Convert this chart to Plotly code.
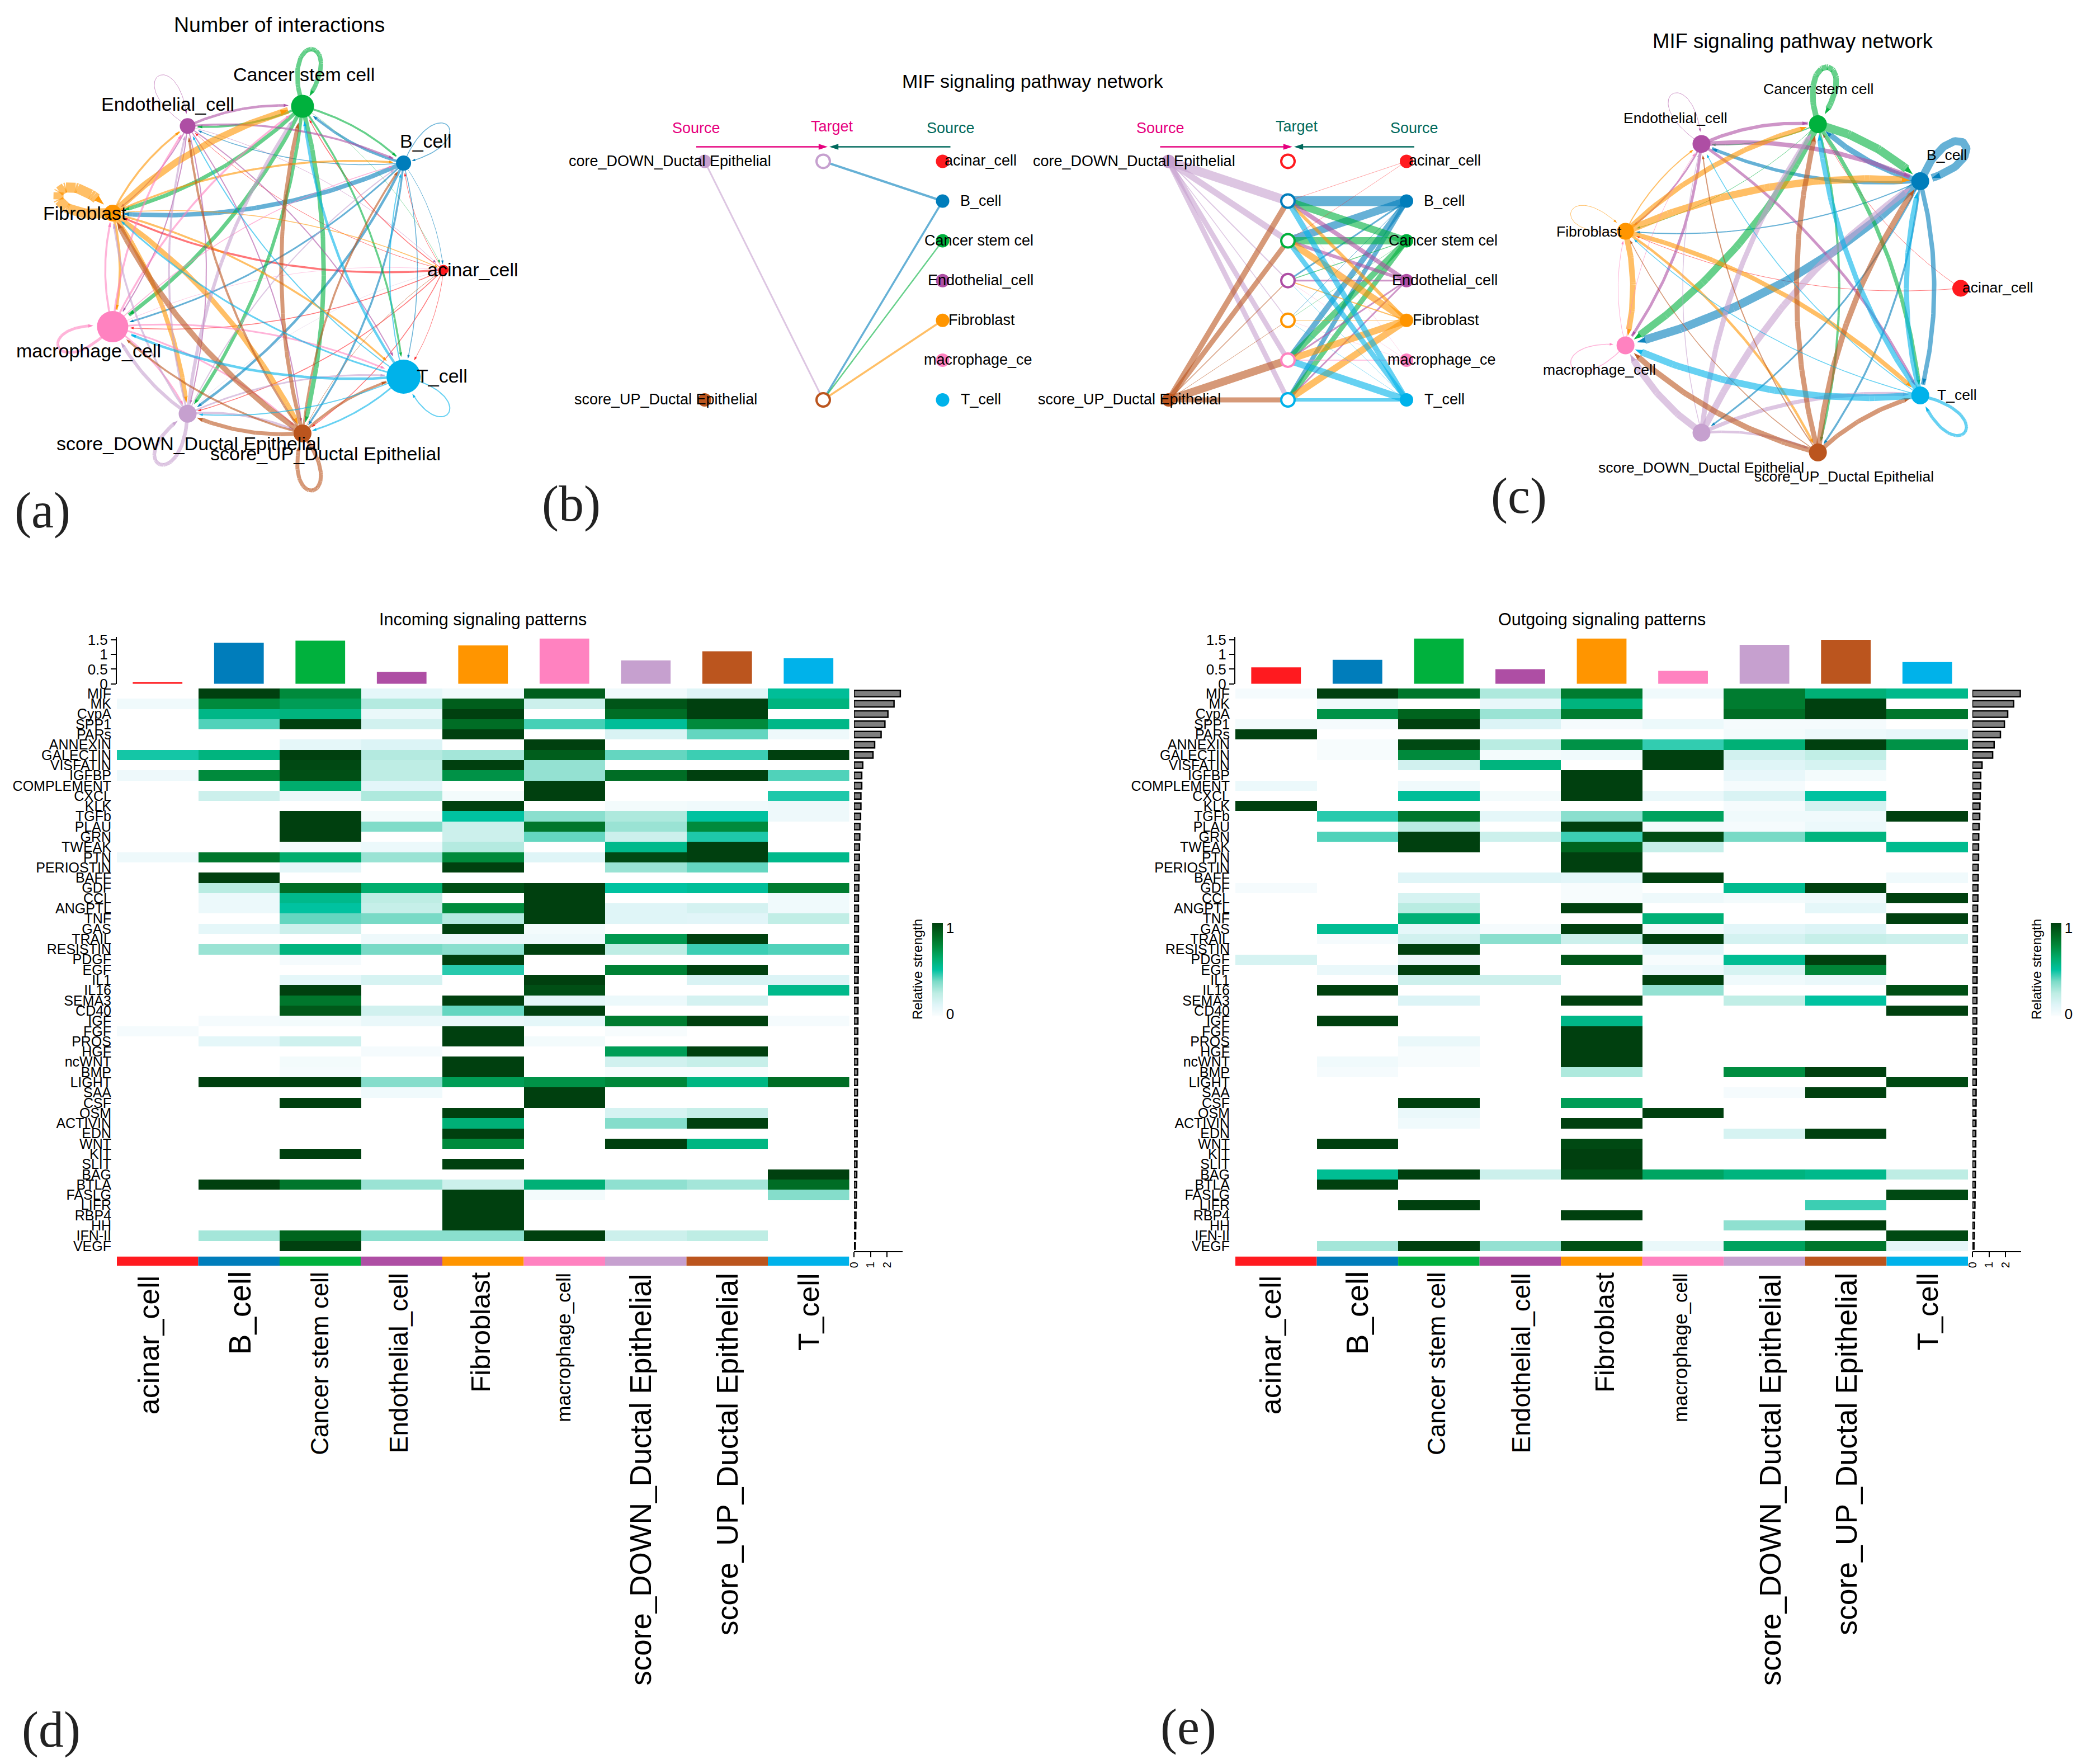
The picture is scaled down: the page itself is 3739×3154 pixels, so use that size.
import math
import plotly.graph_objects as go

W, H = 3739, 3154
FONT = "Liberation Sans"

CELLS = ["acinar_cell", "B_cell", "Cancer stem cell", "Endothelial_cell", "Fibroblast",
         "macrophage_cell", "score_DOWN_Ductal Epithelial", "score_UP_Ductal Epithelial", "T_cell"]
CELL_COLORS = ["#FF1A1F", "#007DBB", "#00B13D", "#AE4EA4", "#FF9500", "#FF82C0", "#C6A0CF", "#BB551E", "#00B2EA"]

PATHWAYS = ["MIF", "MK", "CypA", "SPP1", "PARs", "ANNEXIN", "GALECTIN", "VISFATIN", "IGFBP", "COMPLEMENT",
            "CXCL", "KLK", "TGFb", "PLAU", "GRN", "TWEAK", "PTN", "PERIOSTIN", "BAFF", "GDF", "CCL", "ANGPTL",
            "TNF", "GAS", "TRAIL", "RESISTIN", "PDGF", "EGF", "IL1", "IL16", "SEMA3", "CD40", "IGF", "FGF",
            "PROS", "HGF", "ncWNT", "BMP", "LIGHT", "SAA", "CSF", "OSM", "ACTIVIN", "EDN", "WNT", "KIT", "SLIT",
            "BAG", "BTLA", "FASLG", "LIFR", "RBP4", "HH", "IFN-II", "VEGF"]

INCOMING = [
    [0, 1, .75, .1, .05, .9, .05, .13, .52],
    [.05, .75, .68, .27, .9, .2, .93, 1, .58],
    [0, .56, .58, .08, 1, 0, .85, 1, 0],
    [0, .42, 1, .18, .85, .43, .52, .75, .56],
    [0, 0, 0, 0, 1, 0, .15, .4, .06],
    [0, 0, .1, .14, 0, 1, 0, 0, 0],
    [.48, .58, 1, .27, .3, .9, .4, .44, 1],
    [0, 0, .97, .25, 1, .33, 0, 0, 0],
    [.06, .75, .95, .25, .72, .33, .85, 1, .42],
    [0, 0, .62, .11, 0, 1, 0, 0, 0],
    [0, .2, .08, .28, .04, 1, 0, 0, .47],
    [0, 0, 0, 0, 1, 0, .04, .05, .06],
    [0, 0, 1, .04, .5, .35, .28, .5, .06],
    [0, 0, 1, .37, .2, .82, .32, .75, 0],
    [0, 0, 1, 0, .2, .4, .2, .47, 0],
    [0, 0, .04, .07, .27, 0, .55, 1, 0],
    [.06, .82, .62, .32, .75, .13, .97, 1, .55],
    [0, 0, .1, 0, 1, 0, .32, .4, 0],
    [0, 1, 0, 0, 0, 0, 0, 0, 0],
    [0, .26, .85, .62, .95, 1, .5, .52, .8],
    [0, .07, .55, .25, 0, 1, 0, 0, .05],
    [0, .07, .5, .22, .75, 1, .13, .17, .05],
    [0, 0, .4, .38, .27, 1, .13, .12, .24],
    [0, .1, .2, 0, 1, .04, 0, 0, 0],
    [0, 0, 0, .06, .06, .06, .7, 1, 0],
    [0, .32, .58, .38, .35, 1, .25, .44, .42],
    [0, 0, .03, 0, 1, 0, 0, 0, 0],
    [0, 0, 0, 0, .46, 0, .78, 1, 0],
    [0, 0, .1, .16, 0, 1, 0, .15, .14],
    [0, 0, 1, 0, 0, .95, 0, 0, .55],
    [0, 0, .82, 0, 1, .1, .07, .17, 0],
    [0, 0, .92, .18, .4, 1, 0, 0, 0],
    [0, .03, .04, .08, .08, .1, .8, 1, .03],
    [.03, 0, 0, 0, 1, 0, .02, 0, 0],
    [0, .1, .19, 0, 1, .04, 0, 0, 0],
    [0, 0, 0, .03, 0, 0, .68, 1, 0],
    [0, 0, .04, 0, 1, 0, .18, .22, 0],
    [0, 0, .03, 0, 1, 0, .02, .02, 0],
    [0, 1, 1, .36, .68, .72, .76, .57, .85],
    [0, 0, 0, .05, 0, 1, 0, 0, 0],
    [0, 0, 1, 0, 0, 1, 0, 0, 0],
    [0, 0, 0, 0, 1, 0, .16, .22, 0],
    [0, 0, 0, 0, .6, 0, .36, 1, 0],
    [0, 0, 0, 0, 1, 0, 0, 0, 0],
    [0, 0, 0, 0, .75, 0, 1, .57, 0],
    [0, 0, 1, 0, 0, 0, 0, 0, 0],
    [0, 0, 0, 0, 1, 0, 0, 0, 0],
    [0, 0, 0, 0, 0, 0, 0, 0, 1],
    [0, 1, .82, .32, .2, .6, .34, .3, .85],
    [0, 0, 0, 0, 1, .04, 0, 0, .36],
    [0, 0, 0, 0, 1, 0, 0, 0, 0],
    [0, 0, 0, 0, 1, 0, 0, 0, 0],
    [0, 0, 0, 0, 1, 0, 0, 0, 0],
    [0, .3, .88, .35, .35, 1, .2, .25, 0],
    [0, 0, 1, 0, 0, 0, 0, 0, 0],
]
OUTGOING = [
    [.03, 1, .82, .28, .8, .05, .8, .6, .55],
    [0, .05, 0, .09, .58, 0, .8, 1, 0],
    [0, .72, .88, .32, .8, 0, .85, 1, .82],
    [.04, .03, 1, .14, .03, .07, .03, .03, 0],
    [1, 0, 0, 0, 0, 0, .04, .07, .09],
    [0, .02, .97, .26, .72, .45, .6, 1, .72],
    [0, .02, .75, .04, .05, 1, .18, .24, 0],
    [0, 0, .18, .58, 0, 1, .13, .16, 0],
    [0, 0, 0, 0, 1, 0, .09, .04, 0],
    [.07, 0, .05, 0, 1, 0, .03, 0, 0],
    [0, 0, .52, .04, 1, .08, .15, .5, 0],
    [1, 0, 0, 0, 0, 0, .03, .17, 0],
    [0, .46, .82, .1, .35, .66, .05, .05, 1],
    [0, 0, .26, 0, 1, .04, .03, .07, 0],
    [0, .42, 1, .2, .44, .96, .38, .58, 0],
    [0, 0, 1, 0, .88, .22, 0, 0, .54],
    [0, 0, 0, 0, 1, 0, 0, 0, 0],
    [0, 0, 0, 0, 1, 0, 0, 0, 0],
    [0, 0, .13, .13, .11, 1, 0, 0, .05],
    [.03, 0, 0, 0, .02, 0, .54, 1, 0],
    [0, 0, .16, 0, .02, .06, .04, .05, 1],
    [0, 0, .26, 0, 1, 0, 0, .1, 0],
    [0, 0, .6, 0, 0, .6, 0, 0, 1],
    [0, .53, .1, .03, 1, .04, .11, .14, 0],
    [0, .03, .18, .35, .2, 1, .17, .22, .2],
    [0, 0, 1, 0, 0, .11, 0, 0, 0],
    [.16, 0, .06, 0, .93, .02, .53, 1, 0],
    [0, .08, 1, 0, 0, .07, .16, .77, 0],
    [0, 0, .2, .2, 0, 1, .05, .08, 0],
    [0, 1, 0, 0, 0, .33, 0, 0, .95],
    [0, 0, .14, 0, 1, 0, .24, .5, 0],
    [0, 0, 0, 0, 0, 0, 0, 0, 1],
    [0, 1, 0, 0, .56, 0, 0, 0, 0],
    [0, 0, 0, 0, 1, 0, 0, 0, 0],
    [0, 0, .08, 0, 1, 0, 0, 0, 0],
    [0, 0, .02, 0, 1, 0, 0, 0, 0],
    [0, .05, .02, 0, 1, 0, 0, 0, 0],
    [0, .03, 0, 0, .28, 0, .74, 1, 0],
    [0, 0, 0, 0, 0, 0, 0, 0, .97],
    [0, 0, 0, 0, 0, 0, .03, 1, 0],
    [0, 0, 1, 0, .68, 0, 0, 0, 0],
    [0, 0, .08, 0, 0, 1, 0, 0, 0],
    [0, 0, .05, 0, 1, 0, 0, 0, 0],
    [0, 0, 0, 0, 0, 0, .16, 1, 0],
    [0, 1, 0, 0, .97, 0, 0, 0, 0],
    [0, 0, 0, 0, 1, 0, 0, 0, 0],
    [0, 0, 0, 0, 1, 0, 0, 0, 0],
    [0, .53, 1, .2, .95, .65, .58, .55, .25],
    [0, 1, 0, 0, 0, 0, 0, 0, 0],
    [0, 0, 0, 0, 0, 0, 0, 0, .97],
    [0, 0, 1, 0, 0, 0, 0, .44, 0],
    [0, 0, 0, 0, 1, 0, 0, 0, 0],
    [0, 0, 0, 0, 0, 0, .34, 1, 0],
    [0, 0, 0, 0, 0, 0, 0, 0, .97],
    [0, .3, 1, .33, .95, .08, .66, .82, .1],
]
TOP_IN = [.06, 1.40, 1.47, .41, 1.31, 1.54, .80, 1.11, .87]
TOP_OUT = [.56, .82, 1.54, .50, 1.54, .44, 1.33, 1.50, .74]
RIGHT_IN = [2.8, 2.42, 2.05, 1.87, 1.64, 1.25, 1.15, .53, .47, .47, .42, .42, .4, .36, .35, .33, .33, .31, .31, .29,
            .27, .27, .27, .27, .27, .26, .26, .26, .25, .25, .25, .24, .24, .23, .23, .22, .22, .22, .21, .21, .2,
            .2, .2, .19, .19, .18, .18, .17, .16, .15, .14, .12, .11, .1, .08]
RIGHT_OUT = [2.89, 2.49, 2.13, 1.93, 1.69, 1.31, 1.22, .58, .5, .5, .47, .45, .44, .4, .38, .37, .37, .35, .35, .33,
             .33, .31, .31, .3, .3, .29, .29, .28, .28, .27, .27, .26, .26, .25, .25, .24, .24, .23, .23, .22, .22,
             .21, .21, .2, .2, .19, .19, .18, .17, .16, .15, .13, .12, .11, .09]

# circle-plot edge weights: row = sender, column = receiver
NET_A = [
    [0, 1, 1.5, 1, 3.5, 1.5, 1.5, 1.5, 1],
    [1, 1.5, 4.5, 1.5, 8, 3, 4.5, 3.5, 1.5],
    [.7, 3.5, 8, 4, 7, 7, 6, 8, 3.5],
    [.7, 3.5, 4.5, 1, 2, 2, 2, 2, 2],
    [1.5, 3.5, 12, 3.5, 18, 4.5, 8, 9, 3.5],
    [.7, 1.5, 3.5, 3.5, 3.5, 5, 3, 3, 3],
    [.5, 2, 6, 3.5, 3.5, 6, 6.5, 4, 3],
    [1, 3.5, 7, 4, 10, 3.5, 7, 7, 4.5],
    [0, 2, 4.5, 2, 3, 4.5, 2, 3, 2],
]
NET_C = [
    [0, 0, 1, 0, 1, 0, 0, 0, 0],
    [0, 14, 10, 6, 2, 15, 3, 3.5, 8],
    [0, 15, 10, 2, 1, 13, 0, 4, 7],
    [0, 8, 6, 1, 3, 5, 0, 0, 5],
    [0, 13, 9, 2, 1, 10, 0, 4.5, 8],
    [0, 0, 0, 1, 1, 1.5, 0, 0, 0],
    [0, 12, 9, 1.5, 0, 12, 0, 4.5, 7],
    [0, 10, 9, 2, 1.5, 10, 0, 0, 8],
    [0, 9, 9, 1.5, 1.5, 12, 0, 0, 5.5],
]
NODE_A = [18, 27, 41, 28, 30, 56, 32, 32, 61]
NODE_C = [30, 32, 32, 32, 30, 32, 32, 32, 32]

# hierarchy plot: (sender, receiver, weight)
HIER_LEFT = [(6, 7, 3), (1, 6, 4), (1, 7, 3.5), (2, 7, 2.5), (4, 7, 3.5)]
HIER_RIGHT = [
    (6, 1, 16), (6, 2, 11), (6, 3, 2), (6, 4, 1.5), (6, 5, 9), (6, 8, 9),
    (7, 1, 10), (7, 2, 9), (7, 3, 1.5), (7, 4, 1), (7, 5, 14), (7, 8, 9),
    (1, 1, 18), (1, 2, 14), (1, 3, 3), (1, 4, 1), (1, 5, 10), (1, 8, 8),
    (2, 1, 13), (2, 2, 13), (2, 3, 1.5), (2, 4, .7), (2, 5, 11), (2, 8, 9),
    (3, 1, 8), (3, 2, 6), (3, 3, 3), (3, 5, 3), (3, 8, 3),
    (4, 1, 6), (4, 2, 12), (4, 3, 2), (4, 4, 1), (4, 5, 12), (4, 8, 12),
    (5, 1, .5), (5, 3, .5), (5, 4, .5), (5, 5, 1.5),
    (8, 1, 10), (8, 2, 9), (8, 3, .7), (8, 4, .7), (8, 5, 12), (8, 8, 6),
    (0, 1, .7), (0, 2, .7),
]
HIER_RIGHT_NODES = [0, 1, 2, 3, 4, 5, 8]
HIER_TARGETS_B = [0, 1, 2, 3, 4, 5, 8]
HIER_LABELS = ["acinar_cell", "B_cell", "Cancer stem cel", "Endothelial_cell", "Fibroblast", "macrophage_ce", "T_cell"]
LEFT_LABELS = ["core_DOWN_Ductal Epithelial", "score_UP_Ductal Epithelial"]

COLORSCALE = [[0, "#FFFFFF"], [.02, "#F7FCFD"], [.125, "#E0F5F8"], [.25, "#BEEDE4"], [.375, "#7DDBC8"],
              [.5, "#00C2A0"], [.625, "#00AC6B"], [.75, "#008A3C"], [.875, "#00661F"], [1, "#00400F"]]


def rgba(hex_color, a):
    h = hex_color.lstrip("#")
    return "rgba(%d,%d,%d,%.2f)" % (int(h[0:2], 16), int(h[2:4], 16), int(h[4:6], 16), a)


def dom_x(a, b):
    return [a / W, b / W]


def dom_y(top, bottom):
    return [1 - bottom / H, 1 - top / H]


fig = go.Figure()
annotations = []


def text(x, y, s, size, color="#000000", angle=0, xanchor="center", yanchor="middle", family=FONT):
    annotations.append(dict(x=x, y=y, xref="x", yref="y", text=s, showarrow=False, textangle=angle,
                            font=dict(family=family, size=size, color=color), xanchor=xanchor, yanchor=yanchor,
                            borderpad=0, borderwidth=0))


def edge_trace(pts, width, color, arrow):
    sizes = [0] * (len(pts) - 1) + [arrow]
    fig.add_trace(go.Scatter(
        x=[p[0] for p in pts], y=[p[1] for p in pts], mode="lines+markers",
        line=dict(color=rgba(color, .6), width=width, shape="linear"),
        marker=dict(symbol="arrow", angleref="previous", size=sizes, opacity=1, color=rgba(color, .95), line=dict(width=0)),
        hoverinfo="skip", showlegend=False, xaxis="x", yaxis="y"))


def circle_network(net, node_sizes, cx, cy, rx, ry, loop_len, curve=.13):
    pos = [(cx + rx * math.cos(math.radians(40 * i)), cy - ry * math.sin(math.radians(40 * i))) for i in range(9)]
    for s in range(9):
        for t in range(9):
            w = net[s][t]
            if not w:
                continue
            p0, p3 = pos[s], pos[t]
            rt = node_sizes[t] / 2 + 1
            pts = []
            n = 60
            if s == t:
                th = math.radians(40 * s)
                a = math.radians(27)
                c1 = (p0[0] + loop_len * math.cos(th + a), p0[1] - loop_len * math.sin(th + a))
                c2 = (p0[0] + loop_len * math.cos(th - a), p0[1] - loop_len * math.sin(th - a))
                for k in range(n + 1):
                    u = k / n
                    x = (1 - u) ** 3 * p0[0] + 3 * (1 - u) ** 2 * u * c1[0] + 3 * (1 - u) * u ** 2 * c2[0] + u ** 3 * p0[0]
                    y = (1 - u) ** 3 * p0[1] + 3 * (1 - u) ** 2 * u * c1[1] + 3 * (1 - u) * u ** 2 * c2[1] + u ** 3 * p0[1]
                    pts.append((x, y))
            else:
                dx, dy = p3[0] - p0[0], p3[1] - p0[1]
                c = ((p0[0] + p3[0]) / 2 + curve * dy, (p0[1] + p3[1]) / 2 - curve * dx)
                for k in range(n + 1):
                    u = k / n
                    pts.append(((1 - u) ** 2 * p0[0] + 2 * (1 - u) * u * c[0] + u ** 2 * p3[0],
                                (1 - u) ** 2 * p0[1] + 2 * (1 - u) * u * c[1] + u ** 2 * p3[1]))
            end = len(pts)
            while end > 2 and math.hypot(pts[end - 1][0] - p3[0], pts[end - 1][1] - p3[1]) < rt:
                end -= 1
            edge_trace(pts[:end], w, CELL_COLORS[s], 6 + w * .7)
    fig.add_trace(go.Scatter(x=[p[0] for p in pos], y=[p[1] for p in pos], mode="markers",
                             marker=dict(size=node_sizes, opacity=1, color=CELL_COLORS, line=dict(width=0)),
                             hoverinfo="skip", showlegend=False, xaxis="x", yaxis="y"))


# panel (a)
circle_network(NET_A, NODE_A, 488, 482.5, 305, 297, 155)
text(499, 44, "Number of interactions", 37.5)
for lab, x, y in zip(CELLS, [845, 761, 543, 300, 152, 158, 337, 582, 790], [482, 252, 133, 186, 381, 627, 793, 811, 672]):
    text(x, y, lab, 34)

# panel (c)
circle_network(NET_C, NODE_C, 3197, 515.5, 309, 298, 155)
text(3206, 73, "MIF signaling pathway network", 36.5)
for lab, x, y in zip(CELLS, [3572, 3481, 3251, 2996, 2841, 2860, 3042, 3297, 3499],
                     [514, 277, 159, 211, 414, 661, 836, 852, 706]):
    text(x, y, lab, 26.5)

# panel (b)
text(1847, 145, "MIF signaling pathway network", 34)
ROW_Y = [288.4 + 71.1 * i for i in range(7)]
COLX = [(1260, 1472, 1685.5), (2089.5, 2303, 2515)]
PINK, TEAL = "#E6007E", "#00695C"
for k, (xl, xm, xr) in enumerate(COLX):
    if k == 0:
        edges = HIER_LEFT
        targets = {6: 0, 7: 6}
    else:
        edges = HIER_RIGHT
        targets = {c: i for i, c in enumerate(HIER_TARGETS_B)}
    for s, t, w in edges:
        if s in (6, 7):
            src = (xl, ROW_Y[0] if s == 6 else ROW_Y[6])
        else:
            src = (xr, ROW_Y[HIER_RIGHT_NODES.index(s)])
        fig.add_trace(go.Scatter(x=[src[0], xm], y=[src[1], ROW_Y[targets[t]]], mode="lines",
                                 line=dict(color=rgba(CELL_COLORS[s], .6), width=w),
                                 hoverinfo="skip", showlegend=False, xaxis="x", yaxis="y"))
    # left sources
    fig.add_trace(go.Scatter(x=[xl, xl], y=[ROW_Y[0], ROW_Y[6]], mode="markers",
                             marker=dict(size=24, opacity=1, color=[CELL_COLORS[6], CELL_COLORS[7]], line=dict(width=0)),
                             hoverinfo="skip", showlegend=False, xaxis="x", yaxis="y"))
    # targets
    t_cols = [CELL_COLORS[c] for c in targets]
    t_y = [ROW_Y[i] for i in targets.values()]
    fig.add_trace(go.Scatter(x=[xm] * len(t_y), y=t_y, mode="markers",
                             marker=dict(size=24, opacity=1, color="#FFFFFF", line=dict(width=4, color=t_cols)),
                             hoverinfo="skip", showlegend=False, xaxis="x", yaxis="y"))
    # right sources
    fig.add_trace(go.Scatter(x=[xr] * 7, y=ROW_Y, mode="markers",
                             marker=dict(size=24, opacity=1, color=[CELL_COLORS[c] for c in HIER_RIGHT_NODES], line=dict(width=0)),
                             hoverinfo="skip", showlegend=False, xaxis="x", yaxis="y"))
    # header arrows
    for x0, x1, col in [(xl - 15, xm + 8, PINK), (xr + 14, xm + 11, TEAL)]:
        fig.add_trace(go.Scatter(x=[x0, x1], y=[262.5, 262.5], mode="lines+markers",
                                 line=dict(color=col, width=2.5),
                                 marker=dict(symbol="arrow", angleref="previous", size=[0, 17], opacity=1, color=col, line=dict(width=0)),
                                 hoverinfo="skip", showlegend=False, xaxis="x", yaxis="y"))
    text(xl - 15, 228.6, "Source", 27, PINK)
    text(xm + 16, 226, "Target", 27, PINK if k == 0 else TEAL)
    text(xr + 14, 228.6, "Source", 27, TEAL)
    text(xl - 62, 287.5, LEFT_LABELS[0], 27)
    text(xl - 70, 714, LEFT_LABELS[1], 27)
    for lab, y, dx in zip(HIER_LABELS, ROW_Y, [68, 68, 65, 68, 70, 63, 68]):
        text(xr + dx, y - 1, lab, 27)

# panel letters
SERIF = "Liberation Serif"
for s, x, y in [("(a)", 76, 913), ("(b)", 1021, 901), ("(c)", 2716, 887), ("(d)", 91, 3093), ("(e)", 2125, 3088)]:
    text(x, y, s, 90, "#222222", family=SERIF)

# heatmap panels
HEAT_TOP, HEAT_BOT = 1231, 2237
BAR_TOP, BAR_BOT = 1138.7, 1222.7
LABEL_SIZES = [52, 55, 44, 46, 49, 35, 53, 53.5, 52]
LABEL_TOPS = [2280, 2272, 2274, 2276, 2274, 2276, 2278, 2276, 2276]
NUDGE_D = [-16, 2, -2, -5, -5, -2, -10, 0, 0]
NUDGE_E = [-10, 0, -5, 2, 5, -5, 10, 0, 0]
layout_axes = {}


def heat_panel(idx, x0, x1, right0, z, top, right, title, cb_x, label_x, nudge):
    ax = [idx + i for i in range(4)]
    heat_x, top_x, right_x, strip_x = ["x%d" % a for a in ax]
    heat_y, top_y, right_y, strip_y = ["y%d" % a for a in ax]
    cols = list(range(9))
    fig.add_trace(go.Heatmap(z=z, x=CELLS, y=PATHWAYS, xaxis=heat_x, yaxis=heat_y, zmin=0, zmax=1,
                             colorscale=COLORSCALE, hoverinfo="skip", xgap=0, ygap=0,
                             colorbar=dict(x=cb_x / W, xanchor="left", xref="paper", y=1 - 1818 / H, yanchor="bottom",
                                           yref="paper", lenmode="pixels", len=168, thicknessmode="pixels",
                                           thickness=19, outlinewidth=0, tickvals=[.03, .95], ticktext=["0", "1"],
                                           ticks="", tickfont=dict(family=FONT, size=26, color="#000000"),
                                           xpad=0, ypad=0, ticklabelposition="outside")))
    fig.add_trace(go.Bar(x=cols, y=top, width=.61, marker=dict(color=CELL_COLORS, line=dict(width=0)),
                         xaxis=top_x, yaxis=top_y, hoverinfo="skip", showlegend=False))
    fig.add_trace(go.Bar(x=right, y=PATHWAYS, orientation="h", width=.62,
                         marker=dict(color="#7F7F7F", line=dict(color="#000000", width=2.5)),
                         xaxis=right_x, yaxis=right_y, hoverinfo="skip", showlegend=False))
    fig.add_trace(go.Bar(x=cols, y=[1] * 9, width=1, marker=dict(color=CELL_COLORS, line=dict(width=0)),
                         xaxis=strip_x, yaxis=strip_y, hoverinfo="skip", showlegend=False))
    d = {}
    d["xaxis%d" % ax[0]] = dict(domain=dom_x(x0, x1), anchor=heat_y, visible=False, type="category",
                                categoryorder="array", categoryarray=CELLS)
    d["yaxis%d" % ax[0]] = dict(domain=dom_y(HEAT_TOP, HEAT_BOT), anchor=heat_x, type="category",
                                categoryorder="array", categoryarray=PATHWAYS, autorange="reversed", dtick=1,
                                tickmode="linear", showgrid=False, zeroline=False, showline=False, ticks="outside",
                                ticklen=4, tickcolor="rgba(0,0,0,0)", tickfont=dict(family=FONT, size=25, color="#000000"))
    d["xaxis%d" % ax[1]] = dict(domain=dom_x(x0, x1), anchor=top_y, visible=False, range=[-.5, 8.5])
    d["yaxis%d" % ax[1]] = dict(domain=dom_y(BAR_TOP, BAR_BOT), anchor=top_x, range=[0, 1.6], tickvals=[0, .5, 1, 1.5],
                                ticktext=["0", "0.5", "1", "1.5"], showgrid=False, zeroline=False, showline=True,
                                linecolor="#000000", linewidth=2, ticks="outside", ticklen=9, tickwidth=2,
                                tickcolor="#000000", tickfont=dict(family=FONT, size=26, color="#000000"))
    d["xaxis%d" % ax[2]] = dict(domain=dom_x(right0, right0 + 29.6 * 2.95), anchor=right_y, range=[0, 2.95],
                                tickvals=[0, 1, 2], showgrid=False, zeroline=False, showline=True, linecolor="#000000",
                                linewidth=2, ticks="outside", ticklen=9, tickwidth=2, tickcolor="#000000",
                                tickangle=-90, tickfont=dict(family=FONT, size=20, color="#000000"))
    d["yaxis%d" % ax[2]] = dict(domain=dom_y(HEAT_TOP, HEAT_BOT), anchor=right_x, type="category", visible=False,
                                categoryorder="array", categoryarray=PATHWAYS, autorange="reversed")
    d["xaxis%d" % ax[3]] = dict(domain=dom_x(x0, x1), anchor=strip_y, visible=False, range=[-.5, 8.5])
    d["yaxis%d" % ax[3]] = dict(domain=dom_y(2246.5, 2263), anchor=strip_x, visible=False, range=[0, 1])
    layout_axes.update(d)
    colw = (x1 - x0) / 9
    for i, lab in enumerate(CELLS):
        text(x0 + colw * (i + .5) + nudge[i], LABEL_TOPS[i], lab, LABEL_SIZES[i], angle=-90, yanchor="top")
    text((x0 + x1) / 2, 1107, title, 30.5)
    text(label_x, 1733, "Relative strength", 24, angle=-90)


heat_panel(2, 209, 1518.5, 1527, INCOMING, TOP_IN, RIGHT_IN, "Incoming signaling patterns", 1667, 1640, NUDGE_D)
heat_panel(6, 2209, 3519, 3527, OUTGOING, TOP_OUT, RIGHT_OUT, "Outgoing signaling patterns", 3667, 3641, NUDGE_E)

fig.update_layout(
    width=W, height=H, margin=dict(l=0, r=0, t=0, b=0, autoexpand=False),
    paper_bgcolor="#FFFFFF", plot_bgcolor="rgba(0,0,0,0)", showlegend=False, barmode="overlay",
    font=dict(family=FONT, color="#000000"),
    xaxis=dict(domain=[0, 1], range=[0, W], visible=False, fixedrange=True),
    yaxis=dict(domain=[0, 1], range=[H, 0], visible=False, fixedrange=True),
    annotations=annotations, **layout_axes)

fig.write_html("out.html", config={"displayModeBar": False},
               post_script="document.body.style.margin='0';document.body.style.padding='0';")
